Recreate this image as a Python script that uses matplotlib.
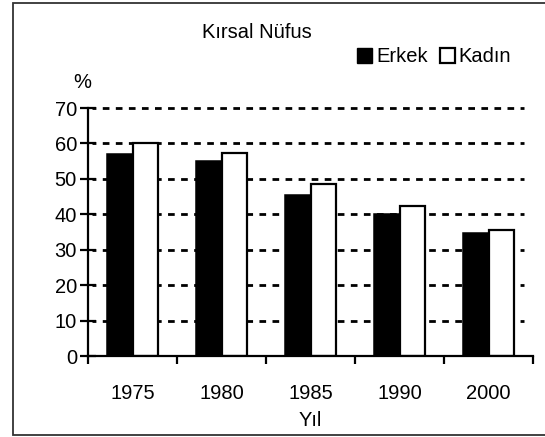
import matplotlib
matplotlib.use('Agg')
import matplotlib.pyplot as plt
import numpy as np
from matplotlib.patches import Patch, Rectangle

# veriler
yillar = ['1975', '1980', '1985', '1990', '2000']
erkek = [57, 55, 45.5, 40, 34.8]
kadin = [60, 57.4, 48.5, 42.2, 35.7]
y_ticks = [0, 10, 20, 30, 40, 50, 60, 70]

plt.rcParams['font.family'] = ['Liberation Sans', 'DejaVu Sans']
plt.rcParams['font.size'] = 14.5

W, H = 545, 437
fig = plt.figure(figsize=(W / 100, H / 100), dpi=100)
fig.patch.set_facecolor('white')

# çerçeve
fig.patches.append(Rectangle((13 / W, 2 / H), 1.0, 432 / H, transform=fig.transFigure,
                             facecolor='white', edgecolor='#333333', linewidth=1.3, zorder=-5))

ax = fig.add_axes([88 / W, 1 - 356 / H, 445 / W, 248 / H])
ax.set_zorder(2)
ax.patch.set_alpha(0)

x = np.arange(len(yillar))
w = 0.286
ax.bar(x - w / 2, erkek, w, color='black', edgecolor='black', linewidth=1.1, zorder=3)
ax.bar(x + w / 2, kadin, w, color='white', edgecolor='black', linewidth=1.6, zorder=3)

ax.set_xlim(-0.5, len(yillar) - 0.5)
ax.set_ylim(0, 70)
ax.set_yticks(y_ticks)

# kesikli yatay çizgiler
for yv in y_ticks[1:]:
    ax.axhline(yv, xmin=0.01, xmax=0.98, color='black', linewidth=2.0,
               linestyle=(1, (2.4, 2.3)), zorder=1, clip_on=False)

# x ekseni: sınırlarda tik, ortada etiket
ax.set_xticks(np.arange(len(yillar) + 1) - 0.5)
ax.set_xticklabels([])
ax.set_xticks(x, minor=True)
ax.set_xticklabels(yillar, minor=True)
ax.tick_params(axis='x', which='major', direction='out', length=6, width=1.6)
ax.tick_params(axis='x', which='minor', length=0, pad=20)
ax.tick_params(axis='y', direction='inout', length=12, width=1.6, pad=2)

for s in ['top', 'right']:
    ax.spines[s].set_visible(False)
for s in ['left', 'bottom']:
    ax.spines[s].set_linewidth(1.6)
    ax.spines[s].set_zorder(4)

ax.set_xlabel('Yıl', labelpad=6)

fig.text(82 / W, 1 - 83 / H, '%', ha='center', va='center')
fig.text(257 / W, 1 - 33 / H, 'Kırsal Nüfus', ha='center', va='center')

handles = [Patch(facecolor='black', edgecolor='black'),
           Patch(facecolor='white', edgecolor='black', linewidth=1.6)]
fig.legend(handles, ['Erkek', 'Kadın'], loc='center', bbox_to_anchor=(434 / W, 1 - 57 / H),
           ncol=2, frameon=False, handlelength=0.75, handleheight=0.75,
           handletextpad=0.2, columnspacing=0.6, borderpad=0)

fig.savefig('out.png', dpi=100)
